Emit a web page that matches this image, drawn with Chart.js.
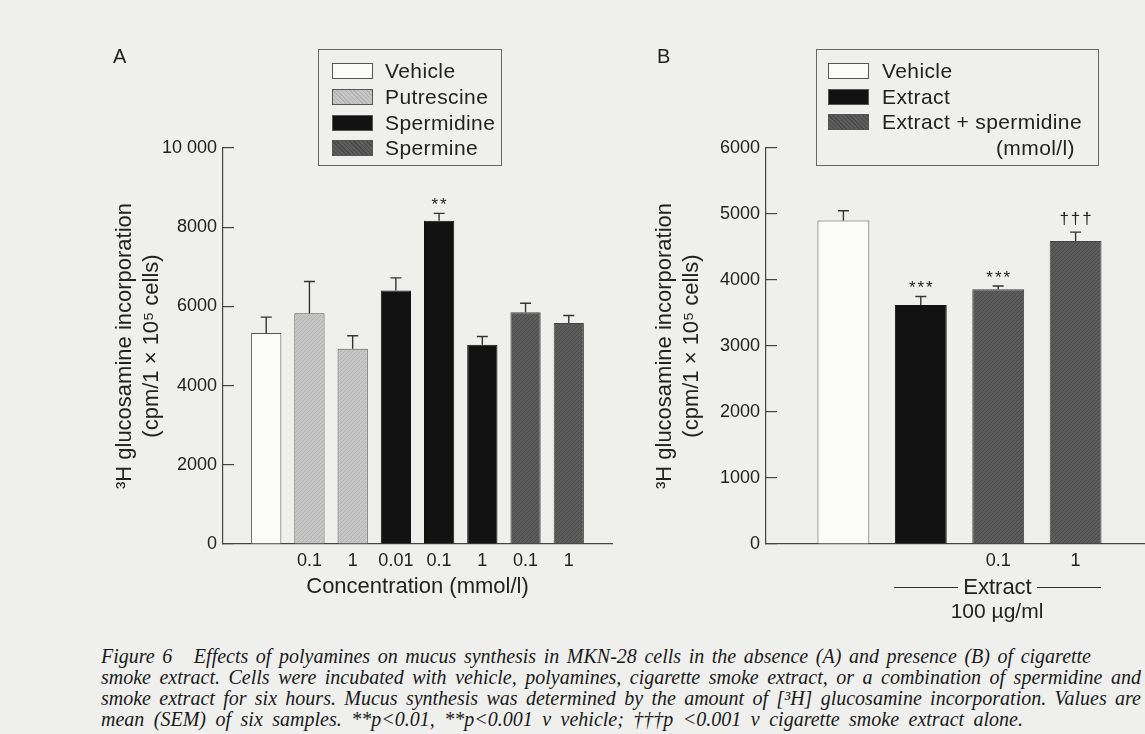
<!DOCTYPE html>
<html>
<head>
<meta charset="utf-8">
<title>Figure 6</title>
<script src="https://cdn.jsdelivr.net/npm/chart.js@4.4.1/dist/chart.umd.min.js"></script>
<style>
    html, body { margin: 0; padding: 0; }
    body {
        width: 1145px; height: 734px; overflow: hidden; position: relative;
        background: #efefed; color: #222;
        font-family: "Liberation Sans", Arial, sans-serif;
    }
    canvas { position: absolute; top: 0; }
    #chartA { left: 0; }
    #chartB { left: 630px; }
    .panel { position: absolute; font-size: 20px; top: 45px; }
    .legend {
        position: absolute; top: 49px; height: 117px; box-sizing: border-box;
        border: 1px solid #666; font-size: 21px; letter-spacing: 0.4px;
    }
    .legend .row { position: absolute; left: 0; right: 0; height: 26px; line-height: 26px; }
    .legend .sw {
        position: absolute; top: 5px; width: 41px; height: 16px; box-sizing: border-box;
        border: 1px solid #555;
    }
    .legend .tx { position: absolute; white-space: nowrap; }
    .sw-vehicle { background: #fbfbfa; }
    .sw-put { background: repeating-linear-gradient(45deg, #b2b2b2 0 1px, #c6c6c6 1px 3px); }
    .sw-spd { background: #121212; }
    .sw-spm { background: repeating-linear-gradient(45deg, #4a4a4a 0 1px, #5c5c5c 1px 3px); }
    #extract {
        position: absolute; left: 894px; top: 574px; width: 207px;
        display: flex; align-items: center; font-size: 22px;
    }
    #extract .ln { flex: 1; border-top: 1px solid #333; height: 0; }
    #extract span.t { padding: 0 5px; }
    #dose { position: absolute; left: 897px; top: 599px; width: 200px; text-align: center; font-size: 21px; }
    #caption {
        position: absolute; left: 101px; top: 646px;
        font-family: "Liberation Serif", "Times New Roman", serif; font-style: italic;
        font-size: 20px; line-height: 21px; color: #1a1a1a;
    }
    #caption div { white-space: nowrap; text-align: justify; text-align-last: justify; }
    #caption .gap { display: inline-block; width: 14px; }
    #caption .nb { display: inline-block; }
</style>
</head>
<body>
<canvas id="chartA" width="640" height="610"></canvas>
<canvas id="chartB" width="540" height="610"></canvas>

<div class="panel" style="left:113px">A</div>
<div class="panel" style="left:657px">B</div>

<div class="legend" style="left:318px; width:184px">
    <div class="row" style="top:8px"><span class="sw sw-vehicle" style="left:13px"></span><span class="tx" style="left:66px">Vehicle</span></div>
    <div class="row" style="top:34px"><span class="sw sw-put" style="left:13px"></span><span class="tx" style="left:66px">Putrescine</span></div>
    <div class="row" style="top:60px"><span class="sw sw-spd" style="left:13px"></span><span class="tx" style="left:66px">Spermidine</span></div>
    <div class="row" style="top:85px"><span class="sw sw-spm" style="left:13px"></span><span class="tx" style="left:66px">Spermine</span></div>
</div>

<div class="legend" style="left:816px; width:283px">
    <div class="row" style="top:8px"><span class="sw sw-vehicle" style="left:11px"></span><span class="tx" style="left:65px">Vehicle</span></div>
    <div class="row" style="top:34px"><span class="sw sw-spd" style="left:11px"></span><span class="tx" style="left:65px">Extract</span></div>
    <div class="row" style="top:59px"><span class="sw sw-spm" style="left:11px"></span><span class="tx" style="left:65px">Extract + spermidine</span></div>
    <div class="row" style="top:85px"><span class="tx" style="right:23px">(mmol/l)</span></div>
</div>

<div id="extract"><span class="ln"></span><span class="t">Extract</span><span class="ln"></span></div>
<div id="dose">100 µg/ml</div>

<div id="caption">
    <div style="width:990px">Figure 6<span class="gap"></span> Effects of polyamines on mucus synthesis in MKN-28 cells in the absence (A) and presence (B) of cigarette</div>
    <div style="width:1040px">smoke extract. Cells were incubated with vehicle, polyamines, cigarette smoke extract, or a combination of spermidine and</div>
    <div style="width:1040px">smoke extract for six hours. Mucus synthesis was determined by the amount of [³H] glucosamine incorporation. Values are</div>
    <div style="width:922px">mean (SEM) of six samples. **p&lt;0.01, **p&lt;0.001 v vehicle; <span class="nb">†††p</span> &lt;0.001 v cigarette smoke extract alone.</div>
</div>

<script>
// Panel A: no smoke extract
const labelsA = ['', '', '0.1', '1', '0.01', '0.1', '1', '0.1', '1', ''];
const seriesA = ['Vehicle', 'Putrescine', 'Spermidine', 'Spermine'];
const groupA = [0, 1, 1, 2, 2, 2, 3, 3];
const meanA = [5330, 5830, 4930, 6400, 8160, 5030, 5850, 5580];
const semA = [400, 800, 330, 320, 190, 210, 230, 190];
const marksA = ['', '', '', '', '**', '', '', ''];
const yTicksA = ['0', '2000', '4000', '6000', '8000', '10 000'];

// Panel B: with smoke extract (100 ug/ml)
const labelsB = ['', '', '', '0.1', '1', ''];
const seriesB = ['Vehicle', 'Extract', 'Extract + spermidine'];
const groupB = [0, 1, 2, 2];
const meanB = [4900, 3620, 3860, 4590];
const semB = [150, 130, 50, 135];
const marksB = ['', '***', '***', '†††'];
const yTicksB = ['0', '1000', '2000', '3000', '4000', '5000', '6000'];

const FONT = '"Liberation Sans", Arial, sans-serif';
Chart.defaults.font.family = FONT;
Chart.defaults.color = '#222';

function hatch(base, line) {
    const c = document.createElement('canvas');
    c.width = c.height = 4;
    const g = c.getContext('2d');
    g.fillStyle = base;
    g.fillRect(0, 0, 4, 4);
    g.fillStyle = line;
    for (let i = 0; i < 4; i++) g.fillRect(i, 3 - i, 1, 1);
    return g.createPattern(c, 'repeat');
}

const fill = {
    vehicle: '#fbfbfa',
    putrescine: hatch('#c6c6c6', '#b2b2b2'),
    spermidine: '#121212',
    spermine: hatch('#5c5c5c', '#4a4a4a')
};

function buildDatasets(names, groups, means, sems, marks, slots, fills, borders, barPct) {
    return names.map((name, g) => {
        const data = new Array(slots).fill(null);
        const sem = new Array(slots).fill(0);
        const mk = new Array(slots).fill('');
        means.forEach((m, k) => {
            if (groups[k] !== g) return;
            data[k + 1] = m;
            sem[k + 1] = sems[k];
            mk[k + 1] = marks[k];
        });
        return {
            label: name, data: data, sem: sem, marks: mk,
            backgroundColor: fills[g], borderColor: borders[g], borderWidth: 1,
            grouped: false, categoryPercentage: 1, barPercentage: barPct
        };
    });
}

// error bars (upper SEM only) and significance marks
const errorBars = {
    id: 'errorBars',
    afterDatasetsDraw(chart) {
        const ctx = chart.ctx;
        const yScale = chart.scales.y;
        ctx.save();
        ctx.strokeStyle = '#333';
        ctx.lineWidth = 1.4;
        chart.data.datasets.forEach((ds, di) => {
            const meta = chart.getDatasetMeta(di);
            ds.data.forEach((v, i) => {
                if (v == null) return;
                const bar = meta.data[i];
                const top = yScale.getPixelForValue(v + ds.sem[i]);
                ctx.beginPath();
                ctx.moveTo(bar.x, bar.y);
                ctx.lineTo(bar.x, top);
                ctx.moveTo(bar.x - 5.5, top);
                ctx.lineTo(bar.x + 5.5, top);
                ctx.stroke();
                const mark = ds.marks[i];
                if (mark) {
                    ctx.fillStyle = '#222';
                    ctx.font = '17px ' + FONT;
                    ctx.letterSpacing = '2px';
                    ctx.textAlign = 'center';
                    ctx.textBaseline = 'middle';
                    const dy = mark[0] === '*' ? 8 : 13;
                    ctx.fillText(mark, bar.x + 1, top - dy);
                }
            });
        });
        ctx.restore();
    }
};

function axisY(max, step, tickLabels, width, titlePad) {
    return {
        min: 0, max: max,
        afterFit(s) { s.width = width; },
        ticks: {
            stepSize: step, padding: 17, color: '#222',
            font: { size: 18 },
            callback: (v, i) => tickLabels[i]
        },
        grid: { display: true, drawOnChartArea: false, drawTicks: true, tickLength: -11, color: '#444', lineWidth: 1.2 },
        border: { display: true, color: '#444', width: 1.2 },
        title: {
            display: true, color: '#222',
            text: ['³H glucosamine incorporation', '(cpm/1 × 10⁵ cells)'],
            font: { size: 22, lineHeight: 1.2 },
            padding: { top: titlePad, bottom: 0 }
        }
    };
}

function axisX(labels, height, title) {
    return {
        type: 'category', labels: labels, offset: false,
        afterFit(s) { s.height = height; },
        grid: { display: false, drawTicks: false },
        border: { display: true, color: '#444', width: 1.2 },
        ticks: { autoSkip: false, maxRotation: 0, padding: 6, color: '#222', font: { size: 18 } },
        title: title
    };
}

new Chart(document.getElementById('chartA'), {
    type: 'bar',
    data: {
        labels: labelsA,
        datasets: buildDatasets(seriesA, groupA, meanA, semA, marksA, labelsA.length,
            [fill.vehicle, fill.putrescine, fill.spermidine, fill.spermine],
            ['#555', '#555', '#111', '#444'], 0.7)
    },
    options: {
        responsive: false, animation: false, devicePixelRatio: 1,
        layout: { padding: { top: 148, right: 28, bottom: 0, left: 0 } },
        plugins: { legend: { display: false }, tooltip: { enabled: false } },
        scales: {
            x: axisX(labelsA, 66, {
                display: true, text: 'Concentration (mmol/l)', color: '#222',
                font: { size: 22, lineHeight: 1.2 }, padding: { top: 0, bottom: 10 }
            }),
            y: axisY(10000, 2000, yTicksA, 223, 112)
        }
    },
    plugins: [errorBars]
});

new Chart(document.getElementById('chartB'), {
    type: 'bar',
    data: {
        labels: labelsB,
        datasets: buildDatasets(seriesB, groupB, meanB, semB, marksB, labelsB.length,
            [fill.vehicle, fill.spermidine, fill.spermine],
            ['#555', '#111', '#444'], 0.67)
    },
    options: {
        responsive: false, animation: false, devicePixelRatio: 1,
        layout: { padding: { top: 148, right: 17, bottom: 0, left: 0 } },
        plugins: { legend: { display: false }, tooltip: { enabled: false } },
        scales: {
            x: axisX(labelsB, 66, { display: false }),
            y: axisY(6000, 1000, yTicksB, 136, 22)
        }
    },
    plugins: [errorBars]
});
</script>
</body>
</html>
